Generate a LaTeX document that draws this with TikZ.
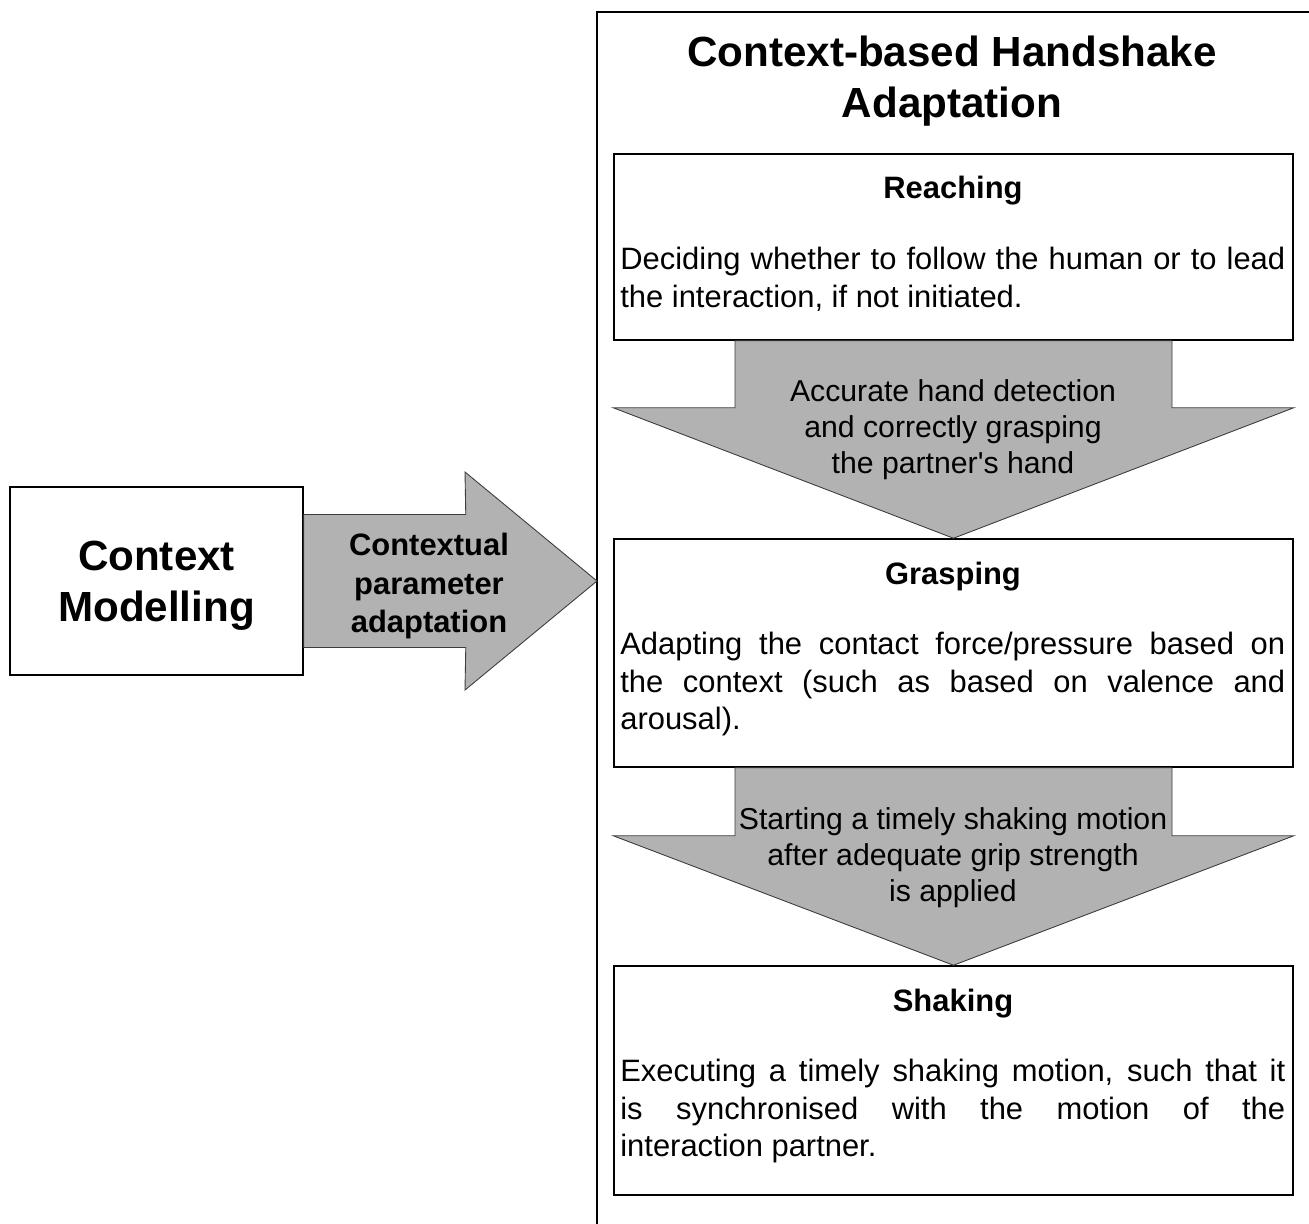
\documentclass[tikz,border=0pt]{standalone}
\usepackage{fontspec}
\setmainfont{Liberation Sans}
\usetikzlibrary{positioning,calc}
\definecolor{arrowgray}{RGB}{178,178,178}
\definecolor{edgegray}{RGB}{60,60,60}

\begin{document}
\begin{tikzpicture}[x=0.02cm,y=-0.02cm,
    stagebox/.style={draw,line width=0.9pt,minimum width=13.58cm,inner sep=0},
    headtext/.style={font=\bfseries\fontsize{17.6}{21.6}\selectfont,inner sep=0},
    bodytext/.style={anchor=west,text width=13.3cm,align=justify,inner sep=0,
        font=\fontsize{17.6}{21.6}\selectfont},
    arrowtext/.style={align=center,inner sep=0,font=\fontsize{17.2}{20.4}\selectfont},
    bigtext/.style={align=center,inner sep=0,font=\bfseries\fontsize{24}{29}\selectfont},
    flowarrow/.style={fill=arrowgray,draw=edgegray,line width=0.5pt,line join=miter}]
    \useasboundingbox (0,0) rectangle (1309,1224);
    % outer frame, cut by the page
    \coordinate (frame) at (597,12);
    \draw[line width=0.9pt] (frame |- 0,1230) -- (frame) -- (1315,12);
    \node[bigtext] (title) at (952,81) {Context-based Handshake\\Adaptation};
    % stages
    \node[stagebox,minimum height=3.72cm] (reach) at (953.5,247) {};
    \node[stagebox,minimum height=4.56cm] (grasp) at (953.5,653) {};
    \node[stagebox,minimum height=4.58cm] (shake) at (953.5,1080.5) {};
    \node[headtext] (reachhead) at (953,191) {Reaching};
    \node[headtext] (grasphead) at (953,577) {Grasping};
    \node[headtext] (shakehead) at (953,1004) {Shaking};
    \node[bodytext] (reachbody) at (620,279) {Deciding whether to follow the human or to lead\linebreak the interaction, if not initiated.};
    \node[bodytext] (graspbody) at (620,684) {Adapting the contact force/pressure based on\linebreak the context (such as based on valence and\linebreak arousal).};
    \node[bodytext] (shakebody) at (620,1111) {Executing a timely shaking motion, such that it\linebreak is synchronised with the motion of the\linebreak interaction partner.};
    % arrows between stages
    \draw[flowarrow] ($(reach.south)+(-218.5,0)$) -- ++(0,67) -- ($(reach.south west)+(0,67)$)
        -- (grasp.north) -- ($(reach.south east)+(0,67)$) -- ($(reach.south)+(218.5,67)$) -- ($(reach.south)+(218.5,0)$) -- cycle;
    \draw[flowarrow] ($(grasp.south)+(-218.5,0)$) -- ++(0,68) -- ($(grasp.south west)+(0,68)$)
        -- (shake.north) -- ($(grasp.south east)+(0,68)$) -- ($(grasp.south)+(218.5,68)$) -- ($(grasp.south)+(218.5,0)$) -- cycle;
    \node[arrowtext] (detect) at (953,430) {Accurate hand detection\\and correctly grasping\\the partner\textquotesingle s hand};
    \node[arrowtext] (grip) at (953,858) {Starting a timely shaking motion\\after adequate grip strength\\is applied};
    % context side
    \node[draw,line width=0.9pt,minimum width=5.86cm,minimum height=3.76cm,inner sep=0] (ctx) at (156.5,581) {};
    \node[bigtext] (ctxtext) at (156.5,586) {Context\\Modelling};
    \draw[flowarrow] ($(ctx.east)+(0,-66.5)$) -- ++(162,0) -- (465,472) -- (frame |- ctx.east)
        -- (465,690) -- ($(ctx.east)+(162,66.5)$) -- ($(ctx.east)+(0,66.5)$) -- cycle;
    \node[bigtext,font=\bfseries\fontsize{17.6}{21.8}\selectfont] (param) at (429,586) {Contextual\\parameter\\adaptation};
\end{tikzpicture}
\end{document}
